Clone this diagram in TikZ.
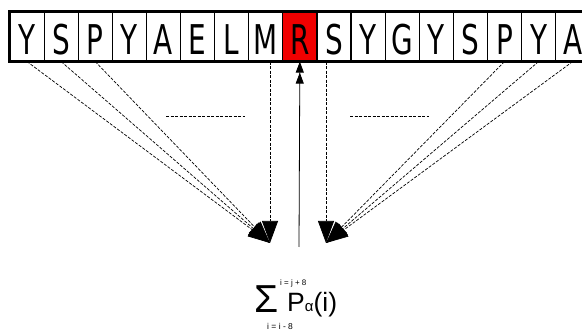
\documentclass[tikz,border=0pt]{standalone}
\usepackage{fontspec}
\usepackage{tikz}
\usetikzlibrary{arrows.meta, positioning, calc}
\newfontfamily\seqfont[FakeStretch=0.68]{DejaVu Sans}
\newfontfamily\sumfont{Liberation Sans}
\definecolor{hitred}{RGB}{240, 0, 0}

\begin{document}
\begin{tikzpicture}[
  x=1pt, y=-1pt,
  residue/.style={rectangle, draw=black, line width=1.2pt, fill=white,
                  minimum width=34.1pt, minimum height=49pt, inner sep=0pt,
                  text height=37pt, text depth=0pt,
                  font=\seqfont\fontsize{41}{41}\selectfont},
  target/.style={residue, fill=hitred},
  link/.style={-{Triangle[length=22pt,width=16pt]}, line width=0.7pt,
               dash pattern=on 3pt off 1.5pt},
  gap/.style={line width=0.7pt, dash pattern=on 3pt off 1.5pt},
  sumtext/.style={inner sep=0pt, anchor=base west}
]
  \useasboundingbox (0,0) rectangle (582,331);

  % sequence window
  \foreach \res [count=\k] in {Y,S,P,Y,A,E,L,M,R,S,Y,G,Y,S,P,Y,A} {
    \ifnum\k=9
      \node[target] (b\k) at ({10+34.1*(\k-0.5)},36.5) {\res};
    \else
      \node[residue] (b\k) at ({10+34.1*(\k-0.5)},36.5) {\res};
    \fi
  }
  \draw[line width=2.5pt] (b1.north west) rectangle (b17.south east);

  \coordinate (tipL) at (270,243);
  \coordinate (tipR) at (326,243);
  \coordinate (sbase) at (299,247);

  % neighbours feed the sum
  \foreach \k in {1,2,3} \draw[link] (b\k.south) -- (tipL);
  \foreach \k in {15,16,17} \draw[link] (b\k.south) -- (tipR);
  \draw[link] (b8.south -| tipL) -- (tipL);
  \draw[link] (b10.south -| tipR) -- (tipR);
  \draw[line width=0.8pt,
        -{Triangle[length=11pt,width=8pt] Triangle[length=11pt,width=8pt]}]
        (sbase) -- (b9.south);

  \draw[gap] (166,116) -- (245,116);
  \draw[gap] (350,116) -- (429,116);

  % score
  \node[sumtext, font=\sumfont\fontsize{39}{39}\selectfont] (sig) at (254,313) {Σ};
  \node[sumtext, font=\sumfont\fontsize{26.5}{26.5}\selectfont] (pterm) at (287,312)
    {P{\fontsize{15}{15}\selectfont α}(i)};
  \node[sumtext, font=\sumfont\fontsize{8}{8}\selectfont] (upper) at (280,286) {i = j + 8};
  \node[sumtext, font=\sumfont\fontsize{8.5}{8.5}\selectfont] (lower) at (267,330) {i = i - 8};
\end{tikzpicture}
\end{document}
